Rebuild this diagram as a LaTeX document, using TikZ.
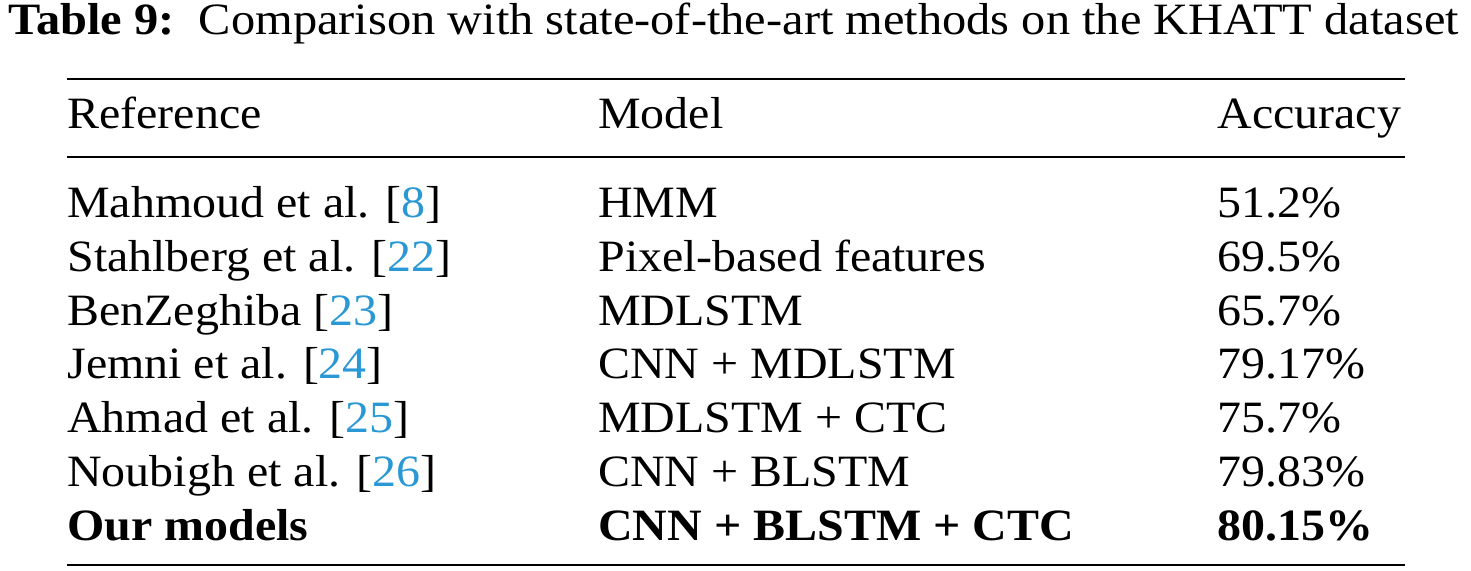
\documentclass[tikz,border=0pt]{standalone}
\usepackage{fontspec}
\setmainfont{Liberation Serif}
\usepackage{xcolor}
\definecolor{citeblue}{RGB}{41,152,212}
\newcommand{\cit}[1]{[\textcolor{citeblue}{#1}]}
\begin{document}
\begin{tikzpicture}[x=0.02cm,y=-0.02cm,
  cell/.style={anchor=base west,inner sep=0pt,xscale=1.07,font=\fontsize{25.5}{30}\selectfont}]
  \useasboundingbox (0,0) rectangle (1471,571);
  \node[cell,xscale=1.01] (cap) at (8,35) {\textbf{Table 9:}\ \ Comparison with state-of-the-art methods on the KHATT dataset};

  \draw[line width=1.2pt] (67,79) -- (1405,79);
  \draw[line width=0.8pt] (67,157) -- (1405,157);
  \draw[line width=1.2pt] (67,565) -- (1405,565);

  \node[cell] (href) at (67,129) {Reference};
  \node[cell] (hmod) at (598,129) {Model};
  \node[cell] (hacc) at (1217,129) {Accuracy};

  \foreach \r/\m/\a [count=\i] in {%
    Mahmoud et al. \cit{8}/HMM/51.2\%,
    Stahlberg et al. \cit{22}/Pixel-based features/69.5\%,
    BenZeghiba \cit{23}/MDLSTM/65.7\%,
    Jemni et al. \cit{24}/CNN + MDLSTM/79.17\%,
    Ahmad et al. \cit{25}/MDLSTM + CTC/75.7\%,
    Noubigh et al. \cit{26}/CNN + BLSTM/79.83\%}{
    \node[cell] (ref\i) at (67,164+53.7*\i) {\r};
    \node[cell] (mod\i) at (598,164+53.7*\i) {\m};
    \node[cell] (acc\i) at (1217,164+53.7*\i) {\a};
  }
  \node[cell,font=\fontsize{25.5}{30}\selectfont\bfseries] (ref7) at (67,540) {Our models};
  \node[cell,font=\fontsize{25.5}{30}\selectfont\bfseries] (mod7) at (598,540) {CNN + BLSTM + CTC};
  \node[cell,font=\fontsize{25.5}{30}\selectfont\bfseries] (acc7) at (1217,540) {80.15\%};
\end{tikzpicture}
\end{document}
